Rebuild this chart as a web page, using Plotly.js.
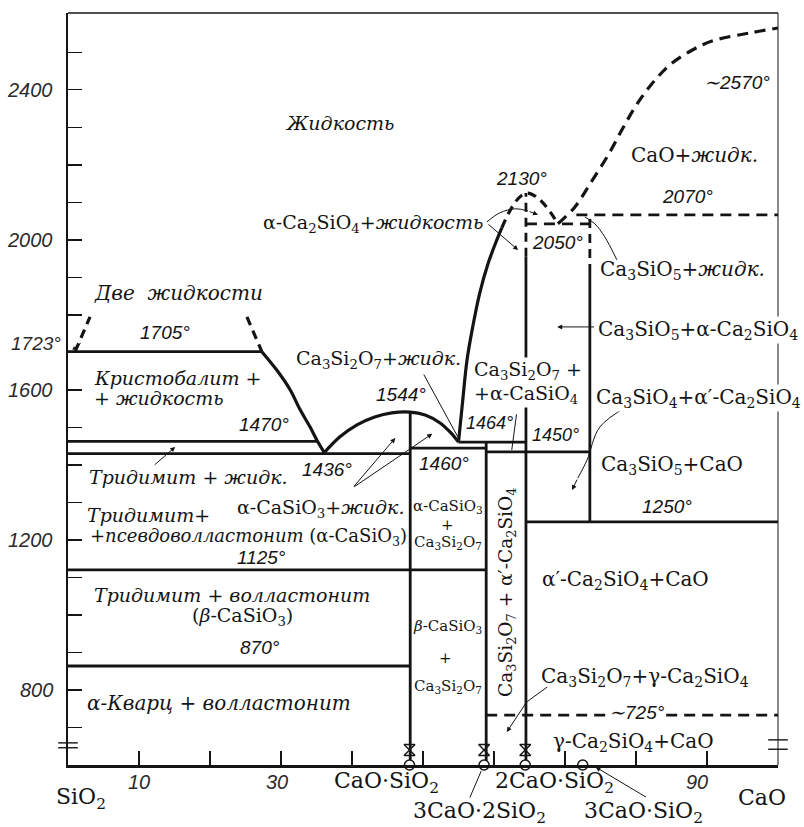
<!DOCTYPE html>
<html><head><meta charset="utf-8">
<script src="https://cdn.plot.ly/plotly-3.0.1.min.js"></script>
<style>html,body{margin:0;padding:0;background:#fff}</style>
</head><body><div id="chart" style="width:804px;height:827px"></div>
<script>
// ================= DATA (wt% CaO, temperature °C) =================
const yTickLabels = [2400, 2000, 1600, 1200, 800];
const yMinorTicks = [700,800,900,1000,1100,1200,1300,1400,1500,1600,1800,1900,2000,2100,2200,2300,2400,2500];
const xTicks = [10,20,30,40,50,60,70,80,90];
const xTickLabels = [10, 30, 90];
const xTickLabelPos = [10.0, 29.4, 88.6];
const sio2MeltT = 1723;

// compounds on the composition axis
const compoundNames = ['CaO·SiO<sub>2</sub>','3CaO·2SiO<sub>2</sub>','2CaO·SiO<sub>2</sub>','3CaO·SiO<sub>2</sub>'];
const compoundX = [48.1, 58.6, 64.4, 72.5];
const compoundLabelX = [44.9, 57.9, 68.5, 81.1];
const compoundLabelRow = [0, 1, 0, 1];

// liquidus curves
const twoLiqLeftX = [1.0, 3.1],  twoLiqLeftT = [1702, 1795];
const twoLiqRightX = [25.2, 27.3], twoLiqRightT = [1795, 1702];
const silicaLiqX = [27.3, 29.4, 31.3, 32.7, 34.1, 35.2, 36.1];
const silicaLiqT = [1702, 1653, 1600, 1547, 1501, 1461, 1433];
const csLiqX = [36.1, 38.3, 40.7, 43.2, 45.6, 48.2, 50.3, 52.4, 53.8, 55.0];
const csLiqT = [1433, 1475, 1507, 1528, 1539, 1541, 1533, 1512, 1488, 1461];
const c2sLiqX = [55.0, 55.6, 56.2, 57.0, 58.0, 59.2, 60.4, 61.1];
const c2sLiqT = [1461, 1573, 1680, 1768, 1859, 1939, 2000, 2032];
const c2sDomeX = [61.1, 62.0, 63.0, 63.8, 64.8, 65.8, 66.8, 67.9, 69.0];
const c2sDomeT = [2032, 2069, 2101, 2117, 2125, 2117, 2101, 2075, 2043];
const caoLiqX = [69.0, 71.4, 73.7, 76.1, 78.0, 79.9, 82.1, 84.8, 88.0, 90.8, 96.1, 100];
const caoLiqT = [2043, 2088, 2155, 2227, 2293, 2355, 2413, 2467, 2507, 2531, 2552, 2565];

// solid isotherms (horizontal) : from x0 to x1 at T
const isoT  = [1702, 1463, 1430, 1120, 864, 1445, 1461, 1435, 1248];
const isoX0 = [0,    0,    0,    0,    0,   48.2, 55.0, 58.9, 64.5];
const isoX1 = [27.3, 35.2, 48.2, 58.9, 48.2, 58.9, 64.5, 73.5, 100];
// solid compound verticals
const vertX  = [48.2, 58.9, 64.5, 73.5];
const vertT0 = [600,  600,  600,  1248];
const vertT1 = [1541, 1461, 1955, 1912];
// dashed isotherms and verticals
const dIsoT  = [733,  2043, 2067];
const dIsoX0 = [58.9, 64.5, 71.6];
const dIsoX1 = [100,  73.5, 100];
const dVertX  = [64.5, 73.5];
const dVertT0 = [1955, 1912];
const dVertT1 = [2125, 2067];

// thin leader curves
const leaderC3SX = [78.7, 74.9, 73.1, 71.8], leaderC3ST = [1555, 1501, 1413, 1365];
const leaderGammaX = [67.5, 64.6], leaderGammaT = [808, 768];
const leaderC2SLiqX = [59.0, 60.8, 63.0, 64.8], leaderC2SLiqT = [2048, 2072, 2083, 2077];
const leaderC3SLiqX = [77.3, 75.6, 74.2, 72.8], leaderC3SLiqT = [1947, 2008, 2043, 2061];

// ================= BUILD =================
const INK = '#141414';
const SERIF = 'DejaVu Serif, Liberation Serif, serif';
const NUM = 'Liberation Sans, Arial, sans-serif';

function segs(x0, x1, y0, y1){
  const X = [], Y = [];
  for (let i = 0; i < x0.length; i++){ X.push(x0[i], x1[i], null); Y.push(y0[i], y1[i], null); }
  return {X, Y};
}
const hs = segs(isoX0, isoX1, isoT, isoT);
const vs = segs(vertX, vertX, vertT0, vertT1);
const dhs = segs(dIsoX0, dIsoX1, dIsoT, dIsoT);
const dvs = segs(dVertX, dVertX, dVertT0, dVertT1);

const base = {type:'scatter', mode:'lines', hoverinfo:'skip', showlegend:false};
const LW = 2.8, CW = 3.2;
const traces = [
  Object.assign({}, base, {x: hs.X, y: hs.Y, line:{color:INK, width:LW}}),
  Object.assign({}, base, {x: vs.X, y: vs.Y, line:{color:INK, width:LW}}),
  Object.assign({}, base, {x: silicaLiqX, y: silicaLiqT, line:{color:INK, width:CW, shape:'spline'}}),
  Object.assign({}, base, {x: csLiqX, y: csLiqT, line:{color:INK, width:CW, shape:'spline'}}),
  Object.assign({}, base, {x: c2sLiqX, y: c2sLiqT, line:{color:INK, width:CW, shape:'spline'}}),
  Object.assign({}, base, {x: twoLiqLeftX, y: twoLiqLeftT, line:{color:INK, width:CW, dash:'9px,6px'}}),
  Object.assign({}, base, {x: twoLiqRightX, y: twoLiqRightT, line:{color:INK, width:CW, dash:'9px,6px'}}),
  Object.assign({}, base, {x: c2sDomeX, y: c2sDomeT, line:{color:INK, width:CW, dash:'9px,6px', shape:'spline'}}),
  Object.assign({}, base, {x: caoLiqX, y: caoLiqT, line:{color:INK, width:CW, dash:'11px,7px', shape:'spline'}}),
  Object.assign({}, base, {x: dhs.X, y: dhs.Y, line:{color:INK, width:LW, dash:'11px,7px'}}),
  Object.assign({}, base, {x: dvs.X, y: dvs.Y, line:{color:INK, width:LW, dash:'9px,6px'}}),
  Object.assign({}, base, {x: leaderC3SX, y: leaderC3ST, line:{color:INK, width:1, shape:'spline'}}),
  Object.assign({}, base, {x: leaderGammaX, y: leaderGammaT, line:{color:INK, width:1}}),
  Object.assign({}, base, {x: leaderC2SLiqX, y: leaderC2SLiqT, line:{color:INK, width:1, shape:'spline'}}),
  Object.assign({}, base, {x: leaderC3SLiqX, y: leaderC3SLiqT, line:{color:INK, width:1, shape:'spline'}}),
  // compound symbols on the axis
  {type:'scatter', mode:'markers', hoverinfo:'skip', showlegend:false, cliponaxis:false,
   x: compoundX, y: compoundX.map(() => 600),
   marker:{symbol:'circle', size:10, color:'#fff', line:{color:INK, width:1.5}}},
  {type:'scatter', mode:'markers', hoverinfo:'skip', showlegend:false, cliponaxis:false,
   x: compoundX.slice(0,3), y: [640, 640, 640],
   marker:{symbol:'hourglass-open', size:11, color:INK, line:{width:1.4}}},
  {type:'scatter', mode:'markers', hoverinfo:'skip', showlegend:false, cliponaxis:false,
   x: [0, 0, 100, 100], y: [659, 646, 667, 642],
   marker:{symbol:'line-ew', size:14, color:INK, line:{color:INK, width:1.4}}}
];

// ---------- annotations ----------
const ann = [];
const FS = 20, RS = 19;
function lab(text, x, y, o){
  ann.push(Object.assign({text, x, y, xref:'x', yref:'y', showarrow:false,
    xanchor:'center', yanchor:'middle', font:{family:SERIF, size:FS, color:INK}}, o||{}));
}
function ru(text, x, y, o){
  lab(text, x, y, Object.assign({font:{family:SERIF, size:RS, color:INK}}, o||{}));
}
function deg(text, x, y, o){
  lab('<i>'+text+'</i>', x, y, Object.assign({font:{family:NUM, size:19, color:INK}}, o||{}));
}
function arrow(hx, hy, tx, ty, head, o){
  ann.push(Object.assign({text:'', x:hx, y:hy, ax:tx, ay:ty, xref:'x', yref:'y', axref:'x', ayref:'y',
    showarrow:true, arrowhead: head, arrowsize:1, arrowwidth:1, arrowcolor:INK, standoff:0, startstandoff:0}, o||{}));
}
const W = {bgcolor:'#fff', borderpad:0};

ru('<i>Жидкость</i>', 30.3, 2312, {xanchor:'left'});
ru('<i>Две  жидкости</i>', 15.6, 1859, {font:{family:SERIF, size:20, color:INK}});
deg('1705°', 13.7, 1752);
ru('<i>Кристобалит +</i>', 3.4, 1632, {xanchor:'left'});
ru('<i>+ жидкость</i>', 3.4, 1579, {xanchor:'left'});
deg('1470°', 27.6, 1507);
deg('1544°', 46.9, 1587);
ru('Ca<sub>3</sub>Si<sub>2</sub>O<sub>7</sub>+<i>жидк.</i>', 43.8, 1680);
lab('Ca<sub>3</sub>Si<sub>2</sub>O<sub>7</sub> +', 57.0, 1653, Object.assign({xanchor:'left', font:{family:SERIF, size:19, color:INK}}, W));
lab('+α-CaSiO<sub>4</sub>', 57.0, 1587, Object.assign({xanchor:'left', font:{family:SERIF, size:19, color:INK}}, W));
deg('1464°', 59.4, 1512, {font:{family:NUM, size:18, color:INK}});
deg('1450°', 68.7, 1480, {font:{family:NUM, size:18, color:INK}});
deg('1460°', 53.0, 1405);
deg('1436°', 36.5, 1387);
ru('<i>Тридимит + жидк.</i>', 2.7, 1368, {xanchor:'left'});
ru('α-CaSiO<sub>3</sub>+<i>жидк.</i>', 23.5, 1285, {xanchor:'left'});
ru('<i>Тридимит+</i>', 2.4, 1267, {xanchor:'left'});
ru('<i>+псевдоволластонит</i> (α-CaSiO<sub>3</sub>)', 2.8, 1208, {xanchor:'left', font:{family:SERIF, size:18, color:INK}});
deg('1125°', 27.3, 1152);
ru('<i>Тридимит + волластонит</i>', 23.1, 1053);
ru('(<i>β</i>-CaSiO<sub>3</sub>)', 24.6, 995);
deg('870°', 27.0, 912);
ru('<i>α-Кварц + волластонит</i>', 2.4, 765, {xanchor:'left', font:{family:SERIF, size:20, color:INK}});
const small = {font:{family:SERIF, size:15, color:INK}};
lab('α-CaSiO<sub>3</sub>', 53.5, 1288, small);
lab('+', 53.4, 1240, small);
lab('Ca<sub>3</sub>Si<sub>2</sub>O<sub>7</sub>', 53.5, 1192, small);
lab('<i>β</i>-CaSiO<sub>3</sub>', 53.5, 968, small);
lab('+', 53.2, 885, small);
lab('Ca<sub>3</sub>Si<sub>2</sub>O<sub>7</sub>', 53.5, 808, small);
lab('Ca<sub>3</sub>Si<sub>2</sub>O<sub>7</sub> + α′-Ca<sub>2</sub>SiO<sub>4</sub>', 61.8, 1061, {textangle:-90, font:{family:SERIF, size:18.5, color:INK}});
lab('Ca<sub>3</sub>SiO<sub>5</sub>+CaO', 85.1, 1400);
deg('1250°', 84.4, 1288);
lab('α′-Ca<sub>2</sub>SiO<sub>4</sub>+CaO', 78.5, 1093);
lab('Ca<sub>3</sub>Si<sub>2</sub>O<sub>7</sub>+γ-Ca<sub>2</sub>SiO<sub>4</sub>', 81.3, 835);
deg('∼725°', 80.1, 739, W);
lab('γ-Ca<sub>2</sub>SiO<sub>4</sub>+CaO', 79.6, 661);
ru('Ca<sub>3</sub>SiO<sub>5</sub>+<i>жидк.</i>', 74.6, 1920, {xanchor:'left', font:{family:SERIF, size:20, color:INK}});
lab('Ca<sub>3</sub>SiO<sub>5</sub>+α-Ca<sub>2</sub>SiO<sub>4</sub>', 74.5, 1760, Object.assign({xanchor:'left'}, W));
lab('Ca<sub>3</sub>SiO<sub>4</sub>+α′-Ca<sub>2</sub>SiO<sub>4</sub>', 74.2, 1579, Object.assign({xanchor:'left'}, W));
deg('2130°', 63.9, 2165);
deg('2050°', 68.9, 1992);
deg('2070°', 87.2, 2115);
ru('α-Ca<sub>2</sub>SiO<sub>4</sub>+<i>жидкость</i>', 58.7, 2045, {xanchor:'right'});
ru('CaO+<i>жидк.</i>', 88.2, 2227, {font:{family:SERIF, size:20, color:INK}});
deg('∼2570°', 94.2, 2421);

// arrows and leader lines
arrow(15.1, 1448, 12.0, 1397, 2);
arrow(46.1, 1472, 40.1, 1339, 2);
arrow(51.3, 1483, 40.1, 1339, 2);
arrow(54.9, 1475, 50.0, 1645, 0);
arrow(62.5, 1440, 63.2, 1539, 0);
arrow(68.9, 1768, 74.3, 1768, 2);
arrow(71.0, 1333, 71.8, 1365, 2);
arrow(61.8, 688, 64.6, 768, 2);
arrow(66.2, 2067, 64.8, 2077, 2);
arrow(63.4, 1973, 59.0, 2045, 2);
arrow(0.6, 1707, 2.0, 1728, 2, {arrowsize:0.7});

// axis labels
yTickLabels.forEach(v => ann.push({text:'<i>'+v+'</i>', x:0, xref:'paper', xshift:-13, xanchor:'right',
  y:v, yref:'y', yanchor:'middle', showarrow:false, font:{family:NUM, size:20, color:'#2a2a2a'}}));
ann.push({text:'<i>'+sio2MeltT+'°</i>', x:0, xref:'paper', xshift:-5, xanchor:'right',
  y:sio2MeltT, yref:'y', yanchor:'middle', showarrow:false, font:{family:NUM, size:19, color:'#2a2a2a'}});
xTickLabels.forEach((v,i) => ann.push({text:'<i>'+v+'</i>', x:xTickLabelPos[i], xref:'x', y:0, yref:'paper',
  yshift:-17, yanchor:'middle', showarrow:false, font:{family:NUM, size:20, color:'#2a2a2a'}}));
compoundNames.forEach((n,i) => ann.push({text:n, x:compoundLabelX[i], xref:'x', y:0, yref:'paper',
  yshift: compoundLabelRow[i] ? -47 : -17, yanchor:'middle', showarrow:false,
  font:{family:SERIF, size:22, color:INK}}));
ann.push({text:'SiO<sub>2</sub>', x:1.8, xref:'x', y:0, yref:'paper', yshift:-33, yanchor:'middle',
  showarrow:false, font:{family:SERIF, size:22, color:INK}});
ann.push({text:'CaO', x:97.7, xref:'x', y:0, yref:'paper', yshift:-32, yanchor:'middle',
  showarrow:false, font:{family:SERIF, size:22, color:INK}});
// leaders below the axis
ann.push({text:'', x:58.2, xref:'x', y:0, yref:'paper', yshift:-6, ax:-12, ay:28, showarrow:true,
  arrowhead:0, arrowwidth:1, arrowcolor:INK});
ann.push({text:'', x:74.3, xref:'x', y:0, yref:'paper', yshift:-2, ax:52, ay:31, showarrow:true,
  arrowhead:2, arrowsize:1, arrowwidth:1, arrowcolor:INK});

const layout = {
  width:804, height:827,
  margin:{l:68, r:26, t:13, b:62},
  paper_bgcolor:'#fff', plot_bgcolor:'#fff',
  showlegend:false,
  xaxis:{range:[0,100], showgrid:false, zeroline:false, showline:true, linecolor:INK, linewidth:2.5,
    tickmode:'array', tickvals:xTicks, ticks:'inside', ticklen:14, tickwidth:1.2, tickcolor:INK,
    showticklabels:false, fixedrange:true},
  yaxis:{range:[600,2605], showgrid:false, zeroline:false, showline:true, linecolor:INK, linewidth:2.5,
    tickmode:'array', tickvals:yMinorTicks, ticks:'inside', ticklen:14, tickwidth:1.2, tickcolor:INK,
    showticklabels:false, fixedrange:true},
  shapes:[
    {type:'line', xref:'paper', yref:'paper', x0:0, x1:1, y0:1, y1:1, line:{color:INK, width:1.5}},
    {type:'line', xref:'paper', yref:'paper', x0:1, x1:1, y0:0, y1:1, line:{color:INK, width:1}}
  ],
  annotations: ann
};
Plotly.newPlot('chart', traces, layout, {staticPlot:true, displayModeBar:false});
</script>
</body></html>
